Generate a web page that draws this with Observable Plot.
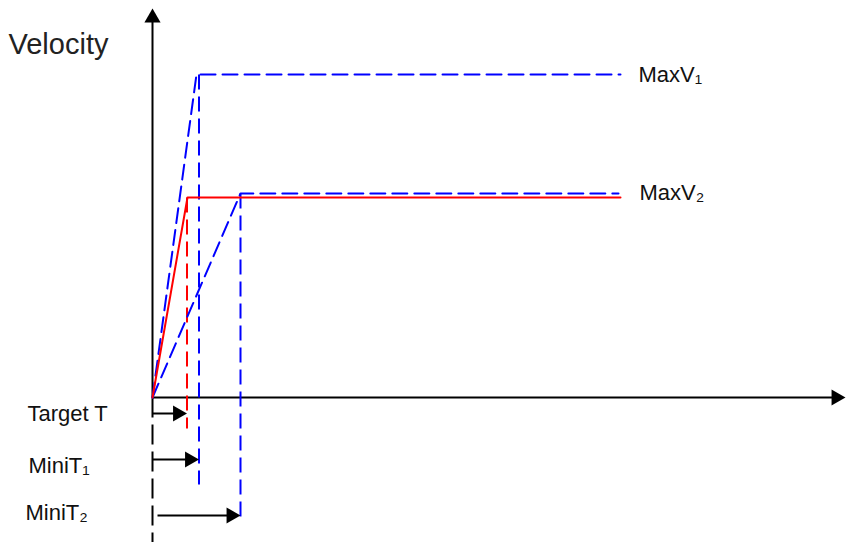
<!DOCTYPE html>
<html>
<head>
<meta charset="utf-8">
<script src="https://cdn.jsdelivr.net/npm/d3@7"></script>
<script src="https://cdn.jsdelivr.net/npm/@observablehq/plot@0.6"></script>
<style>
  html, body { margin: 0; padding: 0; background: #fff; }
  #chart svg { display: block; }
</style>
</head>
<body>
<div id="chart"></div>
<script>
// ---- data (t: time units, v: velocity units; origin at t=0, v=0) ----
const seriesNames   = ["Target", "MaxV1", "MaxV2"];
const rampTime      = [3.5, 4.4, 8.8];     // time at which plateau is reached
const plateauV      = [20.0, 32.3, 20.4];  // plateau velocity
const endTime       = [46.8, 46.8, 46.6];  // end of plateau
const markerTime    = [3.45, 4.65, 8.8];   // vertical dashed time markers
const markerBottom  = [-3.1, -8.7, -12.1]; // lower end of the markers

const rowLabels     = ["Target T", "MiniT\u2081", "MiniT\u2082"];
const rowV          = [-1.6, -6.2, -11.8];
const rowStart      = [0, 0, 0.5];
const rowLabelT     = [-12.5, -12.4, -12.7];
const rowLabelV     = [-1.65, -6.8, -11.5];

const maxLabels     = ["MaxV\u2081", "MaxV\u2082"];
const maxLabelT     = [48.6, 48.7];
const maxLabelV     = [32.3, 20.5];

const axisEndT = 69.3, axisEndV = 38.9, axisBottomV = -14.5;
const yTitle = "Velocity";

// ---- derived tables ----
const profile = seriesNames.flatMap((s, i) => [
  {s, t: 0, v: 0},
  {s, t: rampTime[i], v: plateauV[i]},
  {s, t: endTime[i], v: plateauV[i]}
]);
const markers = seriesNames.map((s, i) => ({s, t: markerTime[i], v1: plateauV[i], v2: markerBottom[i]}));
const rows = rowLabels.map((label, i) => ({label, t0: rowStart[i], t1: markerTime[i], v: rowV[i], lt: rowLabelT[i], lv: rowLabelV[i]}));
const maxes = maxLabels.map((label, i) => ({label, t: maxLabelT[i], v: maxLabelV[i]}));

const color = s => s === "Target" ? "#ff0000" : "#0000ff";
const dash = "15,7";
const headOff = 9.3;

const chart = Plot.plot({
  width: 847,
  height: 542,
  margin: 0,
  x: {domain: [-15.2, 69.5], axis: null},
  y: {domain: [-14.5, 39.7], axis: null},
  style: {fontFamily: "'Liberation Sans', Arial, sans-serif", background: "#fff", color: "#000"},
  marks: [
    // axes
    Plot.link([0], {x1: 0, y1: 0, x2: axisEndT - 1, y2: 0, stroke: "#000", strokeWidth: 2}),
    Plot.link([0], {x1: 0, y1: 0, x2: 0, y2: axisEndV - 1, stroke: "#000", strokeWidth: 2}),
    Plot.link([0], {x1: 0, y1: 0, x2: 0, y2: axisBottomV, stroke: "#000", strokeWidth: 2, strokeDasharray: "20,7"}),
    Plot.dot([0], {x: axisEndT, y: 0, symbol: "triangle", rotate: 90, r: 6, fill: "#000", stroke: null, dx: -headOff}),
    Plot.dot([0], {x: 0, y: axisEndV, symbol: "triangle", rotate: 0, r: 6, fill: "#000", stroke: null, dy: headOff}),
    // vertical markers
    Plot.link(markers, {x1: "t", x2: "t", y1: "v1", y2: "v2", stroke: d => color(d.s), strokeWidth: 2, strokeDasharray: dash}),
    // profiles
    Plot.line(profile.filter(d => d.s !== "Target"), {x: "t", y: "v", z: "s", stroke: "#0000ff", strokeWidth: 2, strokeDasharray: dash}),
    Plot.line(profile.filter(d => d.s === "Target"), {x: "t", y: "v", z: "s", stroke: "#ff0000", strokeWidth: 2}),
    // time arrows
    Plot.link(rows, {x1: "t0", x2: d => d.t1 - 0.8, y1: "v", y2: "v", stroke: "#000", strokeWidth: 2}),
    Plot.dot(rows, {x: "t1", y: "v", symbol: "triangle", rotate: 90, r: 6, fill: "#000", stroke: null, dx: -headOff}),
    // labels
    Plot.text(rows, {x: "lt", y: "lv", text: "label", textAnchor: "start", fontSize: 22, fill: "#111"}),
    Plot.text(maxes, {x: "t", y: "v", text: "label", textAnchor: "start", fontSize: 22, fill: "#111"}),
    Plot.text([yTitle], {x: -14.4, y: 35.3, text: d => d, textAnchor: "start", fontSize: 29, fill: "#222"})
  ]
});
document.getElementById("chart").appendChild(chart);
</script>
</body>
</html>
